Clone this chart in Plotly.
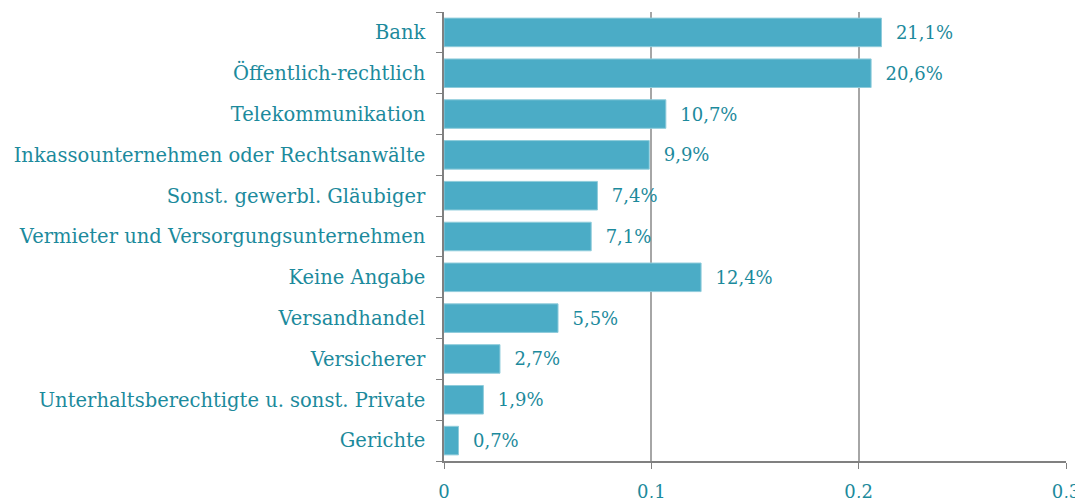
import plotly.graph_objects as go

categories = [
    "Bank",
    "Öffentlich-rechtlich",
    "Telekommunikation",
    "Inkassounternehmen oder Rechtsanwälte",
    "Sonst. gewerbl. Gläubiger",
    "Vermieter und Versorgungsunternehmen",
    "Keine Angabe",
    "Versandhandel",
    "Versicherer",
    "Unterhaltsberechtigte u. sonst. Private",
    "Gerichte",
]
values = [0.211, 0.206, 0.107, 0.099, 0.074, 0.071, 0.124, 0.055, 0.027, 0.019, 0.007]
value_labels = ["21,1%", "20,6%", "10,7%", "9,9%", "7,4%", "7,1%", "12,4%", "5,5%", "2,7%", "1,9%", "0,7%"]
x_ticks = [0, 0.1, 0.2, 0.3]

TEAL = "#1C8A9C"
BAR = "#4BACC6"
GRID = "#A6A6A6"
FONT = "DejaVu Serif"

fig = go.Figure(
    go.Bar(
        y=categories,
        x=values,
        orientation="h",
        marker=dict(color=BAR, line=dict(color="#8FCCDB", width=1)),
        text=value_labels,
        texttemplate="\u00a0\u00a0%{text}",
        textposition="outside",
        textfont=dict(family=FONT, size=18, color=TEAL),
        cliponaxis=False,
    )
)

# page body has an 8px margin at top/left, so the figure is shifted by 8px
fig.update_layout(
    width=1075,
    height=490,
    margin=dict(l=436, r=17, t=4, b=37, autoexpand=False),
    plot_bgcolor="white",
    paper_bgcolor="white",
    bargap=0.3,
    separators=",.",
    showlegend=False,
    font=dict(family=FONT, size=18, color=TEAL),
)

fig.update_yaxes(
    categoryorder="array",
    categoryarray=categories[::-1],
    tickson="boundaries",
    ticks="outside",
    ticklen=6,
    tickcolor="#808080",
    showline=True,
    linecolor="#808080",
    linewidth=1.5,
    showgrid=False,
    automargin=False,
    tickfont=dict(family=FONT, size=19.5, color=TEAL),
    ticklabelstandoff=13,
)

fig.update_xaxes(
    range=[0, 0.3],
    tickvals=x_ticks,
    ticks="outside",
    ticklen=6,
    tickcolor="#808080",
    showline=True,
    linecolor="#808080",
    linewidth=1.5,
    showgrid=True,
    gridcolor=GRID,
    gridwidth=1.5,
    zeroline=False,
    automargin=False,
    tickfont=dict(family=FONT, size=18, color=TEAL),
    ticklabelstandoff=8,
)

fig.write_html("out.html")
